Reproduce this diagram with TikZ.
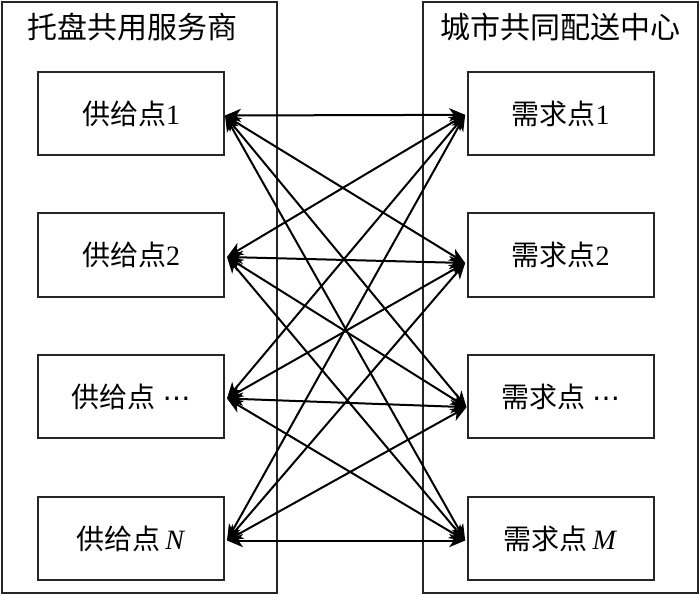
\documentclass[tikz,border=0pt]{standalone}
\usepackage{fontspec}
\setmainfont{Liberation Serif}
\newfontfamily\cjk{Noto Sans CJK SC}
\newfontfamily\dejavu{DejaVu Sans}
\usetikzlibrary{arrows.meta}
\begin{document}
\begin{tikzpicture}[x=0.75pt,y=-0.75pt,
  frame/.style={draw=black!85,line width=1.5pt},
  ptbox/.style={draw=black!85,line width=1.5pt,minimum width=139.5pt,minimum height=62.5pt,inner sep=0pt,font=\fontsize{21}{25}\selectfont},
  ttl/.style={font=\fontsize{22.5}{27}\selectfont\cjk,inner sep=0pt},
  link/.style={draw=black,line width=1.5pt,{Stealth[length=12pt,width=10pt,inset=3.5pt]}-{Stealth[length=12pt,width=10pt,inset=3.5pt]}}]
\useasboundingbox (0,0) rectangle (700,595);
\draw[frame] (2,2) rectangle (277,593);
\draw[frame] (423,2) rectangle (698,593);
\node[ttl] (tl) at (132,27) {托盘共用服务商};
\node[ttl] (tr) at (560,27) {城市共同配送中心};
\node[ptbox] (s1) at (131,113.5) {{\cjk 供给点}1};
\node[ptbox] (s2) at (131,255) {{\cjk 供给点}2};
\node[ptbox] (s3) at (131,396.5) {{\cjk 供给点} {\dejavu ⋯}};
\node[ptbox] (s4) at (131,538.5) {{\cjk 供给点}\,\textit{N}};
\node[ptbox] (d1) at (560.5,113.5) {{\cjk 需求点}1};
\node[ptbox] (d2) at (560.5,255) {{\cjk 需求点}2};
\node[ptbox] (d3) at (560.5,396.5) {{\cjk 需求点} {\dejavu ⋯}};
\node[ptbox] (d4) at (560.5,538.5) {{\cjk 需求点}\,\textit{M}};
\coordinate (a1) at ([yshift=-1.5pt]s1.east);
\coordinate (a2) at ([xshift=1.5pt,yshift=-1.5pt]s2.east);
\coordinate (a3) at ([xshift=1.5pt,yshift=-1.5pt]s3.east);
\coordinate (a4) at ([xshift=1.5pt,yshift=-1.5pt]s4.east);
\coordinate (b1) at ([xshift=-1pt,yshift=-1pt]d1.west);
\coordinate (b2) at ([xshift=-1pt,yshift=-6pt]d2.west);
\coordinate (b3) at ([yshift=-8pt]d3.west);
\coordinate (b4) at ([xshift=-1pt,yshift=-1.5pt]d4.west);
\foreach \i in {1,...,4}{
  \foreach \j in {1,...,4}{
    \draw[link] (a\i) -- (b\j);
  }
}
\end{tikzpicture}
\end{document}
